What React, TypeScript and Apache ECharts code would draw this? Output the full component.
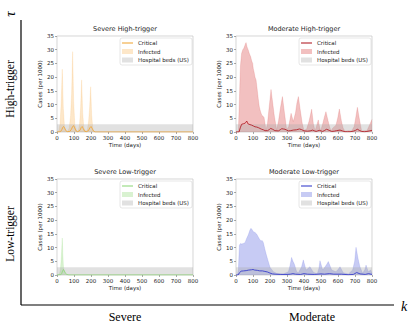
import React, { useEffect, useRef } from "react";
import * as echarts from "echarts";

// ---------- data ----------
const panelTitles = ["Severe High-trigger", "Moderate High-trigger", "Severe Low-trigger", "Moderate Low-trigger"];
const rowLabels = ["High-trigger", "Low-trigger"];
const colLabels = ["Severe", "Moderate"];
const xTicks = [0, 100, 200, 300, 400, 500, 600, 700, 800];
const hospitalBeds = 2.8;
const bandT = [0, 800];

// Severe High-trigger
const sevHighInfT = [0, 10, 18, 24, 31, 37, 44, 52, 62, 72, 80, 86, 92, 98, 105, 115, 125, 133, 139, 145, 151, 158, 168, 178, 186, 192, 198, 204, 211, 220, 800];
const sevHighInfV = [0, 0.3, 3, 10, 22.9, 9, 2, 0.4, 0.2, 1.5, 6, 14, 29.3, 11, 2.5, 0.4, 0.3, 3, 9, 19, 7, 1.5, 0.3, 0.5, 4, 9, 16.5, 6, 1, 0, 0];
const sevHighCritT = [0, 20, 28, 34, 39, 45, 52, 60, 75, 85, 92, 98, 104, 112, 122, 135, 142, 148, 154, 162, 172, 185, 193, 200, 206, 214, 224, 800];
const sevHighCritV = [0, 0.1, 0.8, 1.7, 2, 1.4, 0.5, 0.1, 0.2, 1, 2, 2.3, 1.5, 0.4, 0.1, 0.6, 1.6, 2, 1.3, 0.3, 0.1, 0.5, 1.5, 2, 1.4, 0.4, 0, 0];

// Moderate High-trigger
const modHighInfT = [0, 14, 20, 26, 33, 40, 46, 53, 59, 65, 72, 79, 86, 92, 98, 102, 106, 112, 118, 125, 131, 137, 144, 151, 158, 165, 171, 176, 185, 195, 206, 215, 225, 239, 250, 262, 273, 285, 298, 310, 324, 337, 350, 358, 367, 378, 390, 400, 415, 430, 445, 455, 465, 475, 484, 491, 498, 510, 520, 529, 540, 550, 559, 570, 588, 598, 608, 620, 630, 641, 660, 680, 695, 705, 714, 725, 739, 755, 770, 785, 800];
const modHighInfV = [0, 0.5, 12, 24, 28.7, 30, 30.5, 31.7, 32.6, 31, 29.9, 28.5, 27.5, 26, 25, 23, 22, 20, 19, 15.3, 12, 9.2, 7.5, 6.2, 5.8, 5.3, 3, 0.7, 3, 9, 15.5, 11, 6, 0.8, 4, 9, 12.9, 7, 0.8, 2, 6.8, 3.8, 7, 10.5, 12.9, 8, 3, 0.6, 1, 4, 8.3, 3, 0.5, 2.5, 4.4, 2, 0.5, 3, 5.5, 7.4, 4.5, 2, 0.4, 1.5, 2.5, 5, 8.4, 4, 1.5, 0.3, 0.5, 0.4, 2, 5.5, 9, 5, 0.4, 0.5, 0.5, 2.5, 4.6];
const modHighCritT = [0, 18, 25, 33, 43, 53, 58, 63, 68, 72, 82, 92, 102, 112, 122, 131, 141, 151, 161, 171, 186, 196, 204, 215, 229, 249, 260, 269, 278, 288, 298, 308, 322, 337, 355, 373, 385, 400, 420, 436, 451, 462, 471, 480, 490, 500, 510, 522, 533, 548, 563, 578, 592, 612, 626, 641, 655, 671, 690, 703, 714, 725, 739, 755, 770, 785, 800];
const modHighCritV = [0, 0, 1.5, 2.8, 3, 3.2, 3.5, 4, 3.3, 2.9, 2.7, 2.5, 2.2, 1.9, 1.8, 1.6, 1.3, 1, 0.8, 0.5, 0.5, 0.9, 1.3, 1, 0.5, 0.4, 0.8, 1.2, 1.1, 1, 0.7, 0.4, 0.5, 0.7, 0.8, 1.1, 0.9, 0.4, 0.3, 0.4, 0.7, 0.4, 0.2, 0.4, 0.6, 0.4, 0.2, 0.6, 1, 0.6, 0.2, 0.3, 0.5, 0.7, 0.4, 0.1, 0.1, 0.1, 0.3, 0.6, 1, 0.6, 0.2, 0.1, 0.2, 0.4, 0.6];

// Severe Low-trigger
const sevLowInfT = [0, 14, 20, 25, 29, 31, 34, 38, 44, 52, 60, 800];
const sevLowInfV = [0, 0.2, 2, 6, 11, 13.5, 8, 3, 1, 0.2, 0, 0];
const sevLowCritT = [0, 22, 28, 33, 38, 43, 50, 58, 70, 800];
const sevLowCritV = [0, 0.1, 0.6, 1.5, 2, 1.5, 0.6, 0.2, 0, 0];

// Moderate Low-trigger
const modLowInfT = [0, 8, 14, 20, 27, 33, 43, 53, 63, 72, 82, 88, 95, 102, 112, 122, 135, 145, 155, 161, 171, 180, 190, 200, 210, 220, 239, 260, 278, 295, 308, 318, 327, 335, 343, 357, 367, 386, 396, 412, 425, 435, 455, 478, 488, 494, 510, 524, 535, 543, 563, 588, 600, 612, 631, 661, 686, 698, 706, 718, 729, 745, 758, 765, 778, 792, 800];
const modLowInfV = [0, 0, 2, 10.9, 11.5, 11.3, 11.5, 11.8, 13.4, 14.6, 16.4, 17, 16.5, 15.8, 15.5, 14.9, 13.4, 12.5, 12.5, 11.8, 9.1, 7, 4.9, 2.8, 2, 1.2, 0.6, 0.5, 0.4, 0.8, 1.2, 3.5, 6.4, 5, 4, 1.2, 0.8, 3, 5.5, 1.8, 2.5, 3, 1, 0.4, 2.5, 5.2, 1.8, 3, 4, 4.9, 1.8, 1.2, 2, 3, 0.8, 0.4, 1.8, 5, 10.1, 6, 3, 0.6, 2, 3.6, 1.2, 1.8, 0.5];
const modLowCritT = [0, 12, 20, 30, 45, 60, 75, 90, 100, 110, 125, 140, 155, 170, 185, 200, 215, 230, 260, 300, 320, 335, 350, 380, 400, 420, 460, 500, 520, 550, 575, 620, 660, 690, 710, 730, 760, 780, 800];
const modLowCritV = [0, 0, 0.8, 1.4, 1.5, 1.6, 1.8, 1.9, 2, 1.8, 1.7, 1.5, 1.5, 1.3, 1.1, 0.7, 0.4, 0.3, 0.2, 0.2, 0.3, 0.5, 0.3, 0.2, 0.5, 0.3, 0.2, 0.4, 0.3, 0.5, 0.3, 0.3, 0.1, 0.2, 0.9, 0.4, 0.2, 0.5, 0.2];

const zip = (t: number[], v: number[]) => t.map((x, i) => [x, v[i]]);

const panelData = [
  { inf: zip(sevHighInfT, sevHighInfV), crit: zip(sevHighCritT, sevHighCritV) },
  { inf: zip(modHighInfT, modHighInfV), crit: zip(modHighCritT, modHighCritV) },
  { inf: zip(sevLowInfT, sevLowInfV), crit: zip(sevLowCritT, sevLowCritV) },
  { inf: zip(modLowInfT, modLowInfV), crit: zip(modLowCritT, modLowCritV) },
];

// ---------- styling ----------
const panelColors = [
  { line: "#f0a93e", fill: "rgba(247,170,60,0.28)" },
  { line: "#b3222a", fill: "rgba(214,60,60,0.32)" },
  { line: "#93d97e", fill: "rgba(120,210,90,0.28)" },
  { line: "#3a40cc", fill: "rgba(100,110,225,0.36)" },
];
const bandFill = "rgba(170,170,170,0.35)";
const grids = [
  { left: 57, top: 36, width: 136, height: 96 },
  { left: 236, top: 36, width: 136, height: 96 },
  { left: 57, top: 179, width: 136, height: 96 },
  { left: 236, top: 179, width: 136, height: 96 },
];
const SANS = "DejaVu Sans";
const SERIF = "Liberation Serif";

export default function App() {
  const ref = useRef<HTMLDivElement>(null);
  useEffect(() => {
    if (!ref.current) return;
    const chart = echarts.init(ref.current, undefined, { renderer: "svg" });

    const series: any[] = [];
    const legends: any[] = [];
    panelData.forEach((p, i) => {
      const c = panelColors[i];
      series.push({
        type: "line", name: `Infected|${i}`, xAxisIndex: i, yAxisIndex: i, data: p.inf,
        symbol: "none", lineStyle: { width: 0.5, color: c.fill }, itemStyle: { color: c.fill },
        areaStyle: { color: c.fill, opacity: 1 }, z: 2,
      });
      series.push({
        type: "line", name: `Hospital beds (US)|${i}`, xAxisIndex: i, yAxisIndex: i,
        data: bandT.map((t) => [t, hospitalBeds]),
        symbol: "none", lineStyle: { width: 0 }, itemStyle: { color: bandFill },
        areaStyle: { color: bandFill, opacity: 1 }, z: 3,
      });
      series.push({
        type: "line", name: `Critical|${i}`, xAxisIndex: i, yAxisIndex: i, data: p.crit,
        symbol: "none", lineStyle: { width: 0.9, color: c.line }, itemStyle: { color: c.line }, z: 4,
      });
      const g = grids[i];
      legends.push({
        orient: "vertical",
        right: 415 - (g.left + g.width) + 1,
        top: g.top + 2,
        selectedMode: false,
        itemWidth: 11, itemHeight: 5, itemGap: 2.5, itemTextGap: 4,
        padding: [2, 3, 2, 2],
        backgroundColor: "rgba(255,255,255,0.85)",
        borderColor: "#cccccc", borderWidth: 0.5, borderRadius: 2,
        textStyle: { fontSize: 5.5, fontFamily: SANS, color: "#222" },
        formatter: (n: string) => n.split("|")[0],
        data: [
          { name: `Critical|${i}`, icon: "path://M0,0H20V2H0Z", itemStyle: { color: c.line, borderWidth: 0 } },
          { name: `Infected|${i}`, icon: "rect", itemStyle: { color: c.fill, borderWidth: 0 } },
          { name: `Hospital beds (US)|${i}`, icon: "rect", itemStyle: { color: bandFill, borderWidth: 0 } },
        ],
      });
    });

    const txt = (text: string, x: number, y: number, font: string, rot = 0) => ({
      type: "text", x, y, rotation: rot,
      style: { text, font, fill: "#000", textAlign: "center", textVerticalAlign: "middle", align: "center", verticalAlign: "middle" },
    });
    const graphic: any[] = [
      { type: "line", shape: { x1: 21, y1: 20, x2: 21, y2: 305 }, style: { stroke: "#000", lineWidth: 1.2 } },
      { type: "line", shape: { x1: 21, y1: 305, x2: 394, y2: 305 }, style: { stroke: "#000", lineWidth: 1.2 } },
      txt("τ", 10, 14, `italic 15px ${SERIF}`, Math.PI / 2),
      txt("k", 404, 306, `italic 14px ${SERIF}`),
      txt(rowLabels[0], 10, 89, `11.5px ${SERIF}`, Math.PI / 2),
      txt(rowLabels[1], 10, 234, `11.5px ${SERIF}`, Math.PI / 2),
      txt(colLabels[0], 125, 317, `12px ${SERIF}`),
      txt(colLabels[1], 312, 317, `12px ${SERIF}`),
    ];
    grids.forEach((g, i) => {
      graphic.push({
        type: "text", x: g.left + g.width / 2, y: g.top - 4,
        style: { text: panelTitles[i], font: `6.5px ${SANS}`, fill: "#222", textAlign: "center", textVerticalAlign: "bottom", align: "center", verticalAlign: "bottom" },
      });
    });

    chart.setOption({
      animation: false,
      backgroundColor: "#ffffff",
      grid: grids.map((g) => ({ ...g, show: true, borderColor: "#c4c4c4", borderWidth: 0.7, backgroundColor: "transparent" })),
      xAxis: grids.map((_, i) => ({
        type: "value", gridIndex: i, min: xTicks[0], max: xTicks[xTicks.length - 1], interval: 100,
        name: "Time (days)", nameLocation: "middle", nameGap: 10,
        nameTextStyle: { fontSize: 5.5, fontFamily: SANS, color: "#222" },
        axisLine: { show: false },
        axisTick: { show: true, length: 2, lineStyle: { color: "#555", width: 0.5 } },
        axisLabel: { fontSize: 5.5, fontFamily: SANS, color: "#222", margin: 3 },
        splitLine: { show: false },
      })),
      yAxis: grids.map((_, i) => ({
        type: "value", gridIndex: i, min: 0, max: 35, interval: 5,
        name: "Cases (per 1000)", nameLocation: "middle", nameGap: 13,
        nameTextStyle: { fontSize: 5.5, fontFamily: SANS, color: "#222" },
        axisLine: { show: false },
        axisTick: { show: true, length: 2, lineStyle: { color: "#555", width: 0.5 } },
        axisLabel: { fontSize: 5.5, fontFamily: SANS, color: "#222", margin: 3 },
        splitLine: { show: false },
      })),
      legend: legends,
      series,
      graphic,
    });
    return () => chart.dispose();
  }, []);
  return <div ref={ref} style={{ position: "fixed", left: 0, top: 0, width: 415, height: 326 }} />;
}
